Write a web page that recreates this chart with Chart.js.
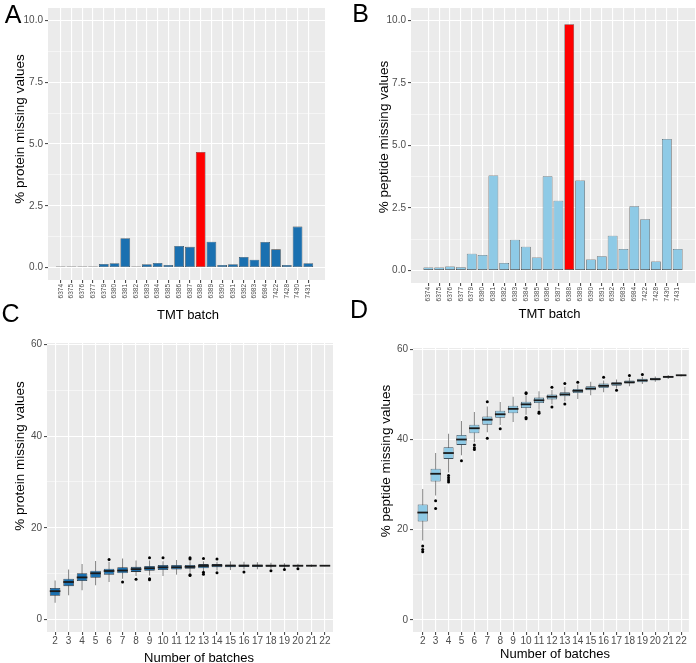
<!DOCTYPE html>
<html>
<head>
<meta charset="utf-8">
<script src="https://cdn.jsdelivr.net/npm/chart.js@4.4.1/dist/chart.umd.min.js"></script>
<style>
  body { margin: 0; background: #fff; }
  #fig { position: relative; width: 696px; height: 663px; overflow: hidden; font-family: "Liberation Sans", Arial, sans-serif; }
  canvas { position: absolute; }
  .lbl { position: absolute; transform: translate(-50%, -50%); white-space: nowrap; line-height: 1; color: #000; }
  .panel { font-size: 25px; }
  .xt { font-size: 13px; }
  .yt { font-size: 13.5px; transform: translate(-50%, -50%) rotate(-90deg); }
</style>
</head>
<body>
<div id="fig">
  <canvas id="chartA" width="348" height="330" style="left:0;top:0"></canvas>
  <canvas id="chartB" width="348" height="330" style="left:348px;top:0"></canvas>
  <canvas id="chartC" width="348" height="333" style="left:0;top:330px"></canvas>
  <canvas id="chartD" width="348" height="333" style="left:348px;top:330px"></canvas>

  <div class="lbl panel" style="left:13px;top:13.5px">A</div>
  <div class="lbl panel" style="left:360.5px;top:12.5px">B</div>
  <div class="lbl panel" style="left:10.5px;top:312.5px">C</div>
  <div class="lbl panel" style="left:359px;top:308.5px">D</div>

  <div class="lbl xt" style="left:188px;top:314px">TMT batch</div>
  <div class="lbl xt" style="left:549.5px;top:313px">TMT batch</div>
  <div class="lbl xt" style="left:199px;top:657px">Number of batches</div>
  <div class="lbl xt" style="left:555px;top:652.5px">Number of batches</div>

  <div class="lbl yt" style="left:20px;top:129px">% protein missing values</div>
  <div class="lbl yt" style="left:384px;top:137px">% peptide missing values</div>
  <div class="lbl yt" style="left:19.5px;top:456px">% protein missing values</div>
  <div class="lbl yt" style="left:385.5px;top:461px">% peptide missing values</div>
</div>

<script>
Chart.defaults.font.family = '"Liberation Sans", Arial, sans-serif';
Chart.defaults.animation = false;

// TMT batches (panels A and B)
const batches = ["6374", "6375", "6376", "6377", "6379", "6380", "6381", "6382",
  "6383", "6384", "6385", "6386", "6387", "6388", "6389", "6390", "6391", "6392",
  "6983", "6984", "7422", "7428", "7430", "7431"];
const proteinMissing = [0.02, 0.03, 0.03, 0.03, 0.15, 0.18, 1.19, 0.04, 0.14, 0.19,
  0.11, 0.88, 0.84, 4.68, 1.05, 0.11, 0.14, 0.43, 0.32, 1.04, 0.74, 0.11, 1.66, 0.18];
const peptideMissing = [0.12, 0.12, 0.16, 0.13, 0.67, 0.62, 3.80, 0.30, 1.23, 0.95,
  0.52, 3.77, 2.79, 9.85, 3.60, 0.44, 0.57, 1.39, 0.86, 2.57, 2.05, 0.36, 5.26, 0.86];
const highlightBatch = "6388";
const barTicks = [0, 1.25, 2.5, 3.75, 5, 6.25, 7.5, 8.75, 10];

// number of batches (panels C and D)
const nBatches = [2, 3, 4, 5, 6, 7, 8, 9, 10, 11, 12, 13, 14, 15, 16, 17, 18, 19, 20, 21, 22];
const boxTicks = [0, 10, 20, 30, 40, 50, 60];

// protein boxplots
const protLow = [3.7, 5.3, 6.4, 7.5, 8.2, 8.9, 9.5, 9.6, 9.5, 9.8, 10.2, 10.6, 10.7, 10.8, 10.9, 11.0, 11.1, 11.2, 11.3, 11.45, 11.65];
const protQ1 = [5.2, 7.3, 8.4, 9.1, 9.8, 10.1, 10.4, 10.65, 10.8, 10.9, 11.1, 11.2, 11.4, 11.4, 11.45, 11.45, 11.5, 11.5, 11.6, 11.65, 11.7];
const protMedian = [6.2, 8.2, 9.2, 10.1, 10.6, 10.7, 11.0, 11.2, 11.4, 11.4, 11.5, 11.7, 11.8, 11.75, 11.75, 11.75, 11.75, 11.75, 11.75, 11.75, 11.75];
const protQ3 = [6.9, 8.9, 10.1, 10.65, 11.1, 11.4, 11.5, 11.7, 11.9, 11.9, 11.9, 12.1, 12.1, 12.0, 12.0, 12.0, 11.95, 11.95, 11.9, 11.85, 11.8];
const protHigh = [8.5, 10.9, 12.1, 12.8, 12.6, 13.3, 12.9, 12.9, 12.7, 13.0, 12.7, 12.7, 12.6, 12.7, 12.6, 12.5, 12.4, 12.3, 12.2, 12.0, 11.85];
const protOutliers = [[6, 13.1], [7, 8.2], [8, 8.8], [9, 13.5], [9, 8.9], [9, 8.7],
  [10, 13.5], [12, 13.5], [12, 13.2], [12, 9.8], [12, 9.6], [13, 13.3], [13, 10.3], [13, 9.9],
  [14, 13.2], [14, 10.2], [16, 10.4], [18, 10.65], [19, 10.9], [20, 11.1]];

// peptide boxplots
const pepLow = [17.6, 27.6, 32.7, 36.5, 39.4, 41.6, 43.2, 43.9, 45.5, 46.6, 47.8, 48.5, 49.0, 49.8, 50.5, 51.3, 51.8, 52.3, 52.8, 53.4, 54.0];
const pepQ1 = [21.8, 30.7, 35.7, 38.8, 41.4, 43.3, 44.8, 45.8, 47.0, 48.1, 48.9, 49.6, 50.3, 50.9, 51.4, 51.9, 52.4, 52.7, 53.1, 53.7, 54.1];
const pepMedian = [23.8, 32.4, 37.0, 40.0, 42.5, 44.4, 45.6, 46.8, 47.8, 48.7, 49.5, 50.0, 50.8, 51.3, 51.9, 52.4, 52.7, 53.1, 53.4, 53.9, 54.25];
const pepQ3 = [25.6, 33.5, 38.3, 41.0, 43.3, 45.1, 46.4, 47.5, 48.4, 49.3, 50.0, 50.5, 51.2, 51.8, 52.4, 52.7, 53.1, 53.5, 53.7, 54.1, 54.35];
const pepHigh = [29.0, 37.0, 41.3, 44.1, 46.1, 47.3, 48.3, 49.5, 49.8, 50.7, 51.0, 51.7, 52.2, 52.8, 53.1, 53.3, 53.7, 53.9, 54.0, 54.3, 54.4];
const pepOutliers = [[2, 16.4], [2, 15.6], [2, 15.1], [3, 26.4], [3, 24.7],
  [4, 32.0], [4, 31.5], [4, 31.0], [4, 30.6], [5, 35.3], [6, 38.8], [6, 38.2], [6, 37.8],
  [7, 48.4], [7, 40.3], [8, 42.4], [10, 50.4], [10, 50.2], [10, 44.9], [10, 44.6],
  [11, 46.1], [11, 45.8], [12, 51.6], [12, 47.2], [13, 52.4], [13, 47.9], [14, 52.7],
  [16, 53.8], [17, 50.9], [18, 54.2], [19, 54.4]];

// grey ggplot-like panel background
const panelBg = {
  id: "panelBg",
  beforeDraw(chart) {
    const a = chart.chartArea;
    const ctx = chart.ctx;
    ctx.save();
    ctx.fillStyle = "#EBEBEB";
    ctx.fillRect(a.left, a.top, a.right - a.left, a.bottom - a.top);
    ctx.restore();
  },
};

function yAxis(min, max, ticks, isMajor, fmt, width) {
  const major = (c) => c.tick && isMajor(c.tick.value);
  return {
    min: min,
    max: max,
    afterBuildTicks: (s) => { s.ticks = ticks.map((v) => ({ value: v })); },
    afterFit: (s) => { s.width = width; },
    ticks: { color: "#4d4d4d", font: { size: 10 }, padding: 2,
      callback: (v) => (isMajor(v) ? fmt(v) : "") },
    grid: { color: "#fff", lineWidth: (c) => (major(c) ? 1.1 : 0.5), tickLength: 3,
      tickColor: (c) => (major(c) ? "#4d4d4d" : "rgba(0,0,0,0)") },
    border: { display: false },
  };
}

function xAxis(min, max, positions, labels, height, tickOpts) {
  return {
    type: "linear",
    min: min,
    max: max,
    offset: false,
    afterBuildTicks: (s) => { s.ticks = positions.map((v) => ({ value: v })); },
    afterFit: (s) => { s.height = height; },
    ticks: Object.assign({ autoSkip: false, color: "#4d4d4d",
      callback: (v, i) => labels[i] }, tickOpts),
    grid: { color: "#fff", lineWidth: 1.1, offset: false, tickLength: 3, tickColor: "#4d4d4d" },
    border: { display: false },
  };
}

function barPanel(id, values, fill, yWidth, xHeight, pad, xMin, xMax) {
  const pos = batches.map((b, i) => i + 1);
  new Chart(document.getElementById(id), {
    type: "bar",
    data: {
      datasets: [{
        data: batches.map((b, i) => ({ x: i + 1, y: values[i] })),
        backgroundColor: batches.map((b) => (b === highlightBatch ? "#FF0000" : fill)),
        borderColor: "#333",
        borderWidth: 0.6,
        borderSkipped: false,
        minBarLength: 1.2,
        barPercentage: 0.9,
        categoryPercentage: 1,
      }],
    },
    options: {
      responsive: false,
      animation: false,
      layout: { padding: pad },
      plugins: { legend: { display: false }, tooltip: { enabled: false } },
      scales: {
        x: xAxis(xMin, xMax, pos, batches, xHeight,
          { minRotation: 90, maxRotation: 90, padding: 1, font: { size: 6.5 } }),
        y: yAxis(-0.5, 10.5, barTicks, (v) => v % 2.5 === 0, (v) => v.toFixed(1), yWidth),
      },
    },
    plugins: [panelBg],
  });
}

function boxPanel(id, low, q1, med, q3, high, outliers, fill, edge, yWidth, pad, xMin, xMax) {
  new Chart(document.getElementById(id), {
    type: "bar",
    data: {
      datasets: [
        // whiskers
        { type: "bar", data: nBatches.map((n, i) => ({ x: n, y: [low[i], high[i]] })),
          backgroundColor: "#8a8a8a", borderWidth: 0, grouped: false,
          barPercentage: 0.08, categoryPercentage: 1, order: 4 },
        // boxes
        { type: "bar", data: nBatches.map((n, i) => ({ x: n, y: [q1[i], q3[i]] })),
          backgroundColor: fill, borderColor: edge, borderWidth: 0.8, borderSkipped: false,
          grouped: false, barPercentage: 0.78, categoryPercentage: 1, order: 3 },
        // medians
        { type: "line", data: nBatches.map((n, i) => ({ x: n, y: med[i] })), showLine: false,
          pointStyle: "line", pointRadius: 5.3, pointBorderWidth: 1.8,
          pointBorderColor: "#1a1a1a", order: 2 },
        // outliers
        { type: "line", data: outliers.map((p) => ({ x: p[0], y: p[1] })), showLine: false,
          pointRadius: 1.5, pointBackgroundColor: "#000", pointBorderWidth: 0, order: 1 },
      ],
    },
    options: {
      responsive: false,
      animation: false,
      layout: { padding: pad },
      plugins: { legend: { display: false }, tooltip: { enabled: false } },
      scales: {
        x: xAxis(xMin, xMax, nBatches, nBatches.map(String), 31,
          { maxRotation: 0, padding: 0, font: { size: 10 } }),
        y: yAxis(-2.7, 60.3, boxTicks, (v) => v % 20 === 0, (v) => String(v), yWidth),
      },
    },
    plugins: [panelBg],
  });
}

barPanel("chartA", proteinMissing, "#1a70b0", 48, 50,
  { left: 0, right: 23, top: 8, bottom: 0 }, -0.18, 25.55);
barPanel("chartB", peptideMissing, "#8ECAE6", 63, 47,
  { left: 0, right: 1, top: 7, bottom: 0 }, -0.6, 25.6);
boxPanel("chartC", protLow, protQ1, protMedian, protQ3, protHigh, protOutliers,
  "#1a70b0", "#2b3640", 47, { left: 0, right: 15, top: 13, bottom: 0 }, 1.4, 22.6);
boxPanel("chartD", pepLow, pepQ1, pepMedian, pepQ3, pepHigh, pepOutliers,
  "#8ECAE6", "#3d4f5c", 65, { left: 0, right: 1, top: 18, bottom: 0 }, 1.25, 22.6);
</script>
</body>
</html>
